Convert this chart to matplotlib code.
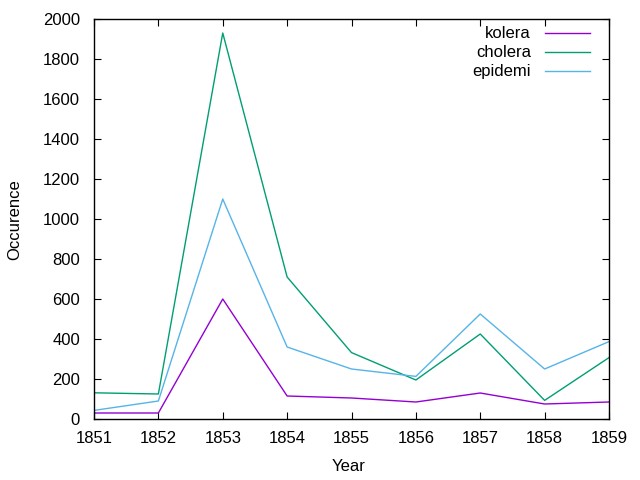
import matplotlib
matplotlib.use("Agg")
import matplotlib.pyplot as plt

years = [1851, 1852, 1853, 1854, 1855, 1856, 1857, 1858, 1859]
kolera = [30, 30, 600, 115, 105, 85, 130, 75, 85]
cholera = [131, 125, 1930, 710, 332, 195, 425, 93, 307]
epidemi = [43, 90, 1100, 360, 250, 213, 525, 250, 387]
labels = ["kolera", "cholera", "epidemi"]
colors = ["#9400d3", "#009e73", "#56b4e9"]

plt.rcParams['font.family'] = ['Liberation Sans', 'DejaVu Sans']
W, H = 640, 480
L, R, T, B = 94, 609, 19, 419
fig = plt.figure(figsize=(6.4, 4.8), dpi=100)
ax = fig.add_axes([L/W, 1-B/H, (R-L)/W, (B-T)/H])

for ys, c in zip([kolera, cholera, epidemi], colors):
    ax.plot(years, ys, color=c, lw=1)

ax.set_xlim(1851, 1859)
ax.set_ylim(0, 2000)
ax.set_xticks(years)
ax.set_yticks(range(0, 2001, 200))
ax.tick_params(direction='in', top=True, right=True, labelsize=12, length=5)
ax.tick_params(axis='x', pad=8.5)
ax.tick_params(axis='y', pad=10)
for s in ax.spines.values():
    s.set_linewidth(1)

fig.text(348.5/W, 1-471/H, "Year", ha='center', va='baseline', fontsize=12)
fig.text(14.5/W, 1-220/H, "Occurence", ha='center', va='center', rotation=90, fontsize=12)

# legend (gnuplot style: right-aligned text, sample to the right)
tr = ax.transAxes
for i, (lab, c) in enumerate(zip(labels, colors)):
    y_px = 33.3 + i * 19
    ya = (B - y_px) / (B - T)
    xt = (531 - L) / (R - L)
    ax.text(xt, ya, lab, transform=tr, ha='right', va='center', fontsize=12)
    ax.plot([(545 - L) / (R - L), (590 - L) / (R - L)], [ya, ya], transform=tr,
            color=c, lw=1, clip_on=False)

fig.savefig("out.png", dpi=100)
